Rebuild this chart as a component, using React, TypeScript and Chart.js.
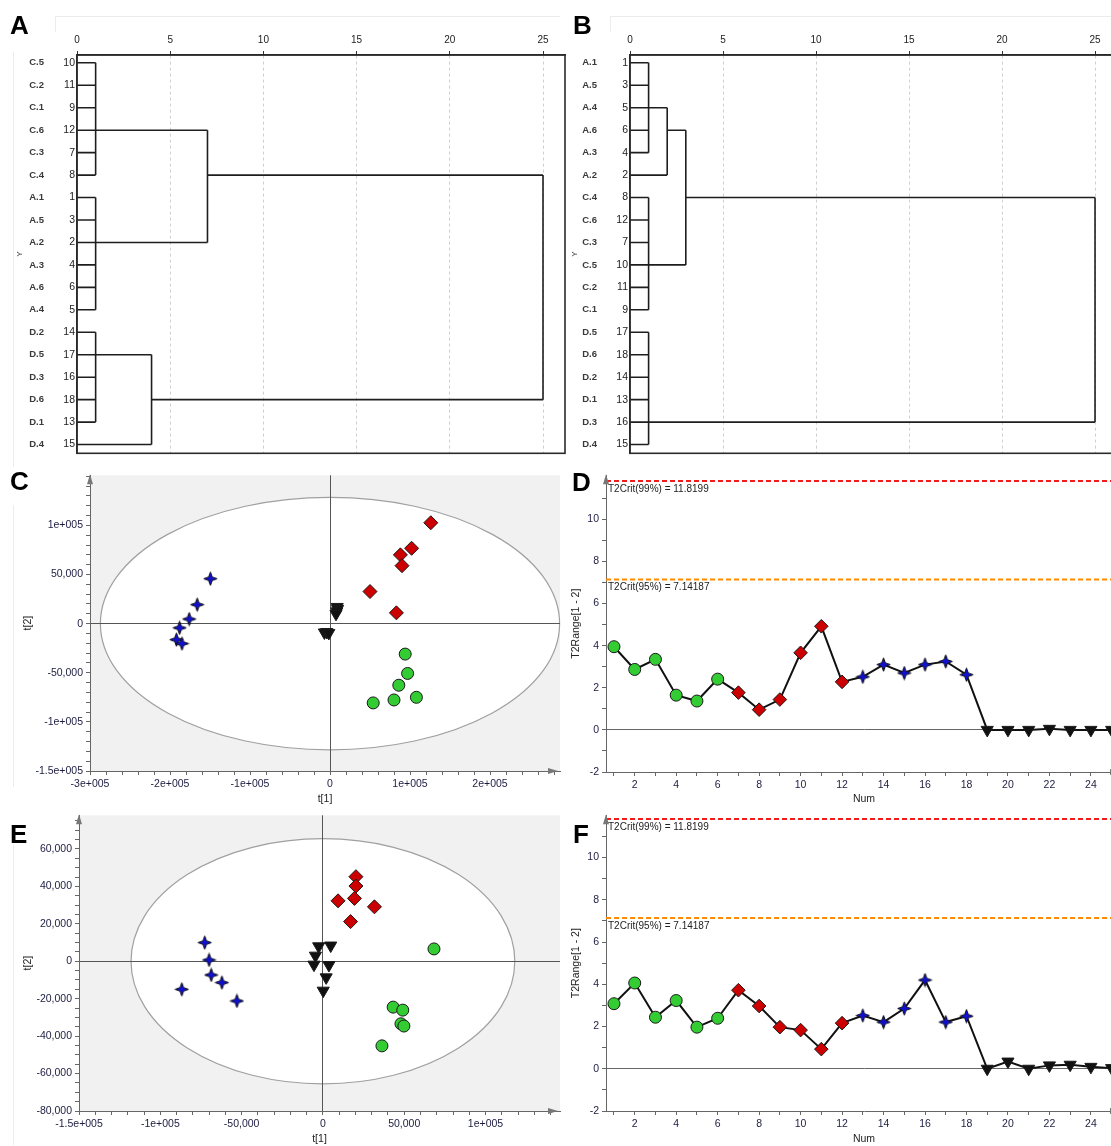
import React, { useEffect, useRef } from 'react';
import { Chart, registerables } from 'chart.js';

Chart.register(...registerables);

// ---------------- data ----------------
const dendroXTicks = [0, 5, 10, 15, 20, 25];

const dendroALabels = ['C.5', 'C.2', 'C.1', 'C.6', 'C.3', 'C.4', 'A.1', 'A.5', 'A.2', 'A.3', 'A.6', 'A.4', 'D.2', 'D.5', 'D.3', 'D.6', 'D.1', 'D.4'];
const dendroAIds = ['10', '11', '9', '12', '7', '8', '1', '3', '2', '4', '6', '5', '14', '17', '16', '18', '13', '15'];
// children: number = leaf row, 'mK' = earlier merge K
const dendroAMerges = [
  { children: [0, 1, 2, 3, 4, 5], height: 1, row: 3 },
  { children: [6, 7, 8, 9, 10, 11], height: 1, row: 8 },
  { children: [12, 13, 14, 15, 16], height: 1, row: 13 },
  { children: ['m0', 'm1'], height: 7, row: 5 },
  { children: ['m2', 17], height: 4, row: 15 },
  { children: ['m3', 'm4'], height: 25, row: 10 },
];

const dendroBLabels = ['A.1', 'A.5', 'A.4', 'A.6', 'A.3', 'A.2', 'C.4', 'C.6', 'C.3', 'C.5', 'C.2', 'C.1', 'D.5', 'D.6', 'D.2', 'D.1', 'D.3', 'D.4'];
const dendroBIds = ['1', '3', '5', '6', '4', '2', '8', '12', '7', '10', '11', '9', '17', '18', '14', '13', '16', '15'];
const dendroBMerges = [
  { children: [0, 1, 2, 3, 4], height: 1, row: 2 },
  { children: ['m0', 5], height: 2, row: 3 },
  { children: [6, 7, 8, 9, 10, 11], height: 1, row: 9 },
  { children: ['m1', 'm2'], height: 3, row: 6 },
  { children: [12, 13, 14, 15, 16, 17], height: 1, row: 16 },
  { children: ['m3', 'm4'], height: 25, row: 11 },
];

// score plot C
const cAx = [94000, 97000, 86000, 108000, 80000, 54000];
const cAy = [-31000, -50700, -62700, -75000, -77700, -80700];
const cCx = [126000, 102000, 88000, 90000, 50000, 83000];
const cCy = [102700, 76700, 70000, 59000, 32700, 11000];
const cDx = [-149500, -166000, -176000, -188000, -192000, -185000];
const cDy = [45700, 19300, 4700, -4300, -16300, -20300];
const cQx = [9000, 9500, 8500, 7500, -7000, -4000, -1500];
const cQy = [17000, 15000, 12500, 10000, -9000, -8500, -9500];
const cXTicks = [-300000, -200000, -100000, 0, 100000, 200000];
const cXTickLabels = ['-3e+005', '-2e+005', '-1e+005', '0', '1e+005', '2e+005'];
const cYTicks = [-150000, -100000, -50000, 0, 50000, 100000];
const cYTickLabels = ['-1.5e+005', '-1e+005', '-50,000', '0', '50,000', '1e+005'];
const ellipseC = [287000, 128500];

// score plot E
const eAx = [68300, 43200, 49100, 48000, 49800, 36300];
const eAy = [6600, -24500, -26100, -33400, -34600, -45200];
const eCx = [20300, 20300, 19400, 9300, 31700, 17000];
const eCy = [45200, 40200, 33600, 32300, 29100, 21200];
const eDx = [-72700, -70000, -68700, -62100, -86800, -52900];
const eDy = [10000, 700, -7300, -11400, -15000, -21200];
const eQx = [-2600, 4800, -4600, -5500, 3700, 2000, 200];
const eQy = [8000, 8400, 3000, -1800, -2000, -8600, -15700];
const eXTicks = [-150000, -100000, -50000, 0, 50000, 100000];
const eXTickLabels = ['-1.5e+005', '-1e+005', '-50,000', '0', '50,000', '1e+005'];
const eYTicks = [-80000, -60000, -40000, -20000, 0, 20000, 40000, 60000];
const eYTickLabels = ['-80,000', '-60,000', '-40,000', '-20,000', '0', '20,000', '40,000', '60,000'];
const ellipseE = [118000, 65500];

// T2 range plots D and F
const sampleNums = [1, 2, 3, 4, 5, 6, 7, 8, 9, 10, 11, 12, 13, 14, 15, 16, 17, 18, 19, 20, 21, 22, 23, 24, 25];
const sampleGroups = ['A', 'A', 'A', 'A', 'A', 'A', 'C', 'C', 'C', 'C', 'C', 'C', 'D', 'D', 'D', 'D', 'D', 'D', 'QC', 'QC', 'QC', 'QC', 'QC', 'QC', 'QC'];
const t2RangeD = [3.95, 2.87, 3.35, 1.65, 1.37, 2.41, 1.77, 0.96, 1.44, 3.66, 4.92, 2.28, 2.52, 3.1, 2.7, 3.1, 3.25, 2.62, 0, 0, 0, 0.05, 0, 0, 0];
const t2RangeF = [3.08, 4.06, 2.44, 3.23, 1.97, 2.39, 3.72, 2.97, 1.97, 1.83, 0.93, 2.16, 2.52, 2.21, 2.85, 4.2, 2.21, 2.49, 0, 0.34, 0, 0.16, 0.19, 0.09, 0.03];
const t2Crit99 = 11.8199;
const t2Crit95 = 7.14187;
const t2Crit99Label = 'T2Crit(99%) = 11.8199';
const t2Crit95Label = 'T2Crit(95%) = 7.14187';
const t2XTickLabels = [2, 4, 6, 8, 10, 12, 14, 16, 18, 20, 22, 24];
const t2YTickLabels = [-2, 0, 2, 4, 6, 8, 10];

// ---------------- styles ----------------
const SANS = "'Liberation Sans', Arial, sans-serif";
const TICK_TXT = '#1c1c40';
const COLORS: any = { A: '#33cc33', C: '#cc0000', D: '#1010d0', QC: '#111111' };

function makeStar(size: number, fill: string) {
  const c = document.createElement('canvas');
  c.width = size;
  c.height = size;
  const g = c.getContext('2d')!;
  const m = size / 2, r = size / 2 - 0.8, ri = r * 0.27;
  g.beginPath();
  g.moveTo(m, m - r);
  g.lineTo(m + ri, m - ri);
  g.lineTo(m + r, m);
  g.lineTo(m + ri, m + ri);
  g.lineTo(m, m + r);
  g.lineTo(m - ri, m + ri);
  g.lineTo(m - r, m);
  g.lineTo(m - ri, m - ri);
  g.closePath();
  g.fillStyle = fill;
  g.fill();
  g.lineWidth = 1;
  g.strokeStyle = '#111';
  g.stroke();
  return c;
}

function stepTicks(from: number, to: number, step: number) {
  const out: any[] = [];
  for (let v = from; v <= to + 1e-9; v += step) out.push({ value: Math.round(v * 1000) / 1000 });
  return out;
}

// ---------------- dendrogram ----------------
function dendroSegments(merges: any[]) {
  const segs: any[] = [];
  const pos = (c: any) =>
    typeof c === 'number'
      ? { h: 0, r: c }
      : { h: merges[+c.slice(1)].height, r: merges[+c.slice(1)].row };
  merges.forEach((m) => {
    const ps = m.children.map(pos);
    ps.forEach((p: any) => segs.push([{ x: p.h, y: p.r }, { x: m.height, y: p.r }]));
    const rows = ps.map((p: any) => p.r);
    segs.push([{ x: m.height, y: Math.min(...rows) }, { x: m.height, y: Math.max(...rows) }]);
  });
  return segs;
}

const framePlugin = {
  id: 'frame',
  afterDatasetsDraw(chart: any) {
    const { ctx, chartArea: a } = chart;
    ctx.save();
    ctx.strokeStyle = '#2a2a2a';
    ctx.lineWidth = 1.6;
    ctx.strokeRect(a.left, a.top, a.right - a.left, a.bottom - a.top);
    ctx.restore();
  },
};

function dendroConfig(labels: string[], ids: string[], merges: any[], o: any) {
  const segs = dendroSegments(merges);
  const rows = labels.map((_, i) => ({ value: i }));
  const yBase = {
    type: 'linear',
    position: 'left',
    reverse: true,
    min: -0.348,
    max: 17.39,
    afterBuildTicks: (ax: any) => {
      ax.ticks = rows.map((r) => ({ ...r }));
    },
  };
  return {
    type: 'scatter',
    data: {
      datasets: segs.map((s: any) => ({
        data: s,
        showLine: true,
        borderColor: '#1e1e1e',
        borderWidth: 1.6,
        pointRadius: 0,
        pointHoverRadius: 0,
        yAxisID: 'yNum',
      })),
    },
    options: {
      animation: false,
      responsive: false,
      events: [],
      layout: { padding: { top: 0, right: o.padRight, bottom: o.padBottom, left: 0 } },
      plugins: { legend: { display: false }, tooltip: { enabled: false } },
      scales: {
        x: {
          type: 'linear',
          position: 'top',
          min: 0,
          max: o.xMax,
          afterBuildTicks: (ax: any) => {
            ax.ticks = dendroXTicks.map((v) => ({ value: v }));
          },
          afterFit: (ax: any) => {
            ax.height = 55;
          },
          ticks: { autoSkip: false, maxRotation: 0, padding: 5, font: { family: SANS, size: 10 }, color: '#222', callback: (v: any) => String(v) },
          grid: {
            color: (c: any) => (c.tick && c.tick.value === 0 ? 'rgba(0,0,0,0)' : '#cfcfcf'),
            lineWidth: 1,
            tickColor: '#333',
            tickLength: 4,
          },
          border: { display: true, color: '#2a2a2a', width: 1.6, dash: [3, 3] },
        },
        yNum: {
          ...yBase,
          weight: 0,
          afterFit: (ax: any) => {
            ax.width = o.numW;
          },
          ticks: { autoSkip: false, padding: 2, font: { family: SANS, size: 10.5 }, color: '#222', callback: (v: any) => ids[v] ?? '' },
          grid: { display: false, drawTicks: false },
          border: { display: true, color: '#2a2a2a', width: 1.6 },
        },
        yLab: {
          ...yBase,
          weight: 10,
          afterFit: (ax: any) => {
            ax.width = o.labW;
          },
          ticks: { autoSkip: false, crossAlign: 'center', padding: 11, font: { family: SANS, size: 9.5, weight: 'bold' }, color: '#3a3a3a', callback: (v: any) => labels[v] ?? '' },
          grid: { display: false, drawTicks: false },
          border: { display: false },
          title: { display: true, text: 'Y', padding: { top: o.titlePad, bottom: 0 }, font: { family: SANS, size: 8 }, color: '#333' },
        },
      },
    },
    plugins: [framePlugin],
  };
}

// ---------------- shared axis decoration ----------------
const arrowPlugin = {
  id: 'arrows',
  afterDraw(chart: any) {
    const { ctx, chartArea: a } = chart;
    ctx.save();
    ctx.fillStyle = '#777';
    ctx.beginPath();
    ctx.moveTo(a.left, a.top - 1);
    ctx.lineTo(a.left - 3, a.top + 9);
    ctx.lineTo(a.left + 3, a.top + 9);
    ctx.closePath();
    ctx.fill();
    ctx.beginPath();
    ctx.moveTo(a.right - 2, a.bottom);
    ctx.lineTo(a.right - 12, a.bottom - 3);
    ctx.lineTo(a.right - 12, a.bottom + 3);
    ctx.closePath();
    ctx.fill();
    ctx.restore();
  },
};

function zeroGrid(lineColor: string) {
  return {
    color: (c: any) => (c.tick && c.tick.value === 0 ? lineColor : 'rgba(0,0,0,0)'),
    lineWidth: 1,
    tickColor: '#666',
    tickLength: 4,
    drawOnChartArea: true,
  };
}

// ---------------- score plots ----------------
function zip(xs: number[], ys: number[]) {
  return xs.map((x, i) => ({ x, y: ys[i] }));
}

function scoreConfig(o: any) {
  const star = makeStar(15, COLORS.D);
  const bg = {
    id: 'scoreBg',
    beforeDraw(chart: any) {
      const { ctx, chartArea: a, scales } = chart;
      ctx.save();
      ctx.fillStyle = '#f1f1f1';
      ctx.fillRect(a.left, a.top, a.right - a.left, a.bottom - a.top);
      const cx = scales.x.getPixelForValue(0);
      const cy = scales.y.getPixelForValue(0);
      const rx = Math.abs(scales.x.getPixelForValue(o.ellipse[0]) - cx);
      const ry = Math.abs(scales.y.getPixelForValue(o.ellipse[1]) - cy);
      ctx.beginPath();
      ctx.ellipse(cx, cy, rx, ry, 0, 0, Math.PI * 2);
      ctx.fillStyle = '#ffffff';
      ctx.fill();
      ctx.strokeStyle = '#a0a0a0';
      ctx.lineWidth = 1.2;
      ctx.stroke();
      ctx.restore();
    },
  };
  const common = { borderColor: '#1a1a1a', pointBorderColor: '#1a1a1a', pointBorderWidth: 1, pointHoverRadius: 0 };
  return {
    type: 'scatter',
    data: {
      datasets: [
        { ...common, data: zip(o.D[0], o.D[1]), pointStyle: star, pointRadius: 7, backgroundColor: COLORS.D },
        { ...common, data: zip(o.QC[0], o.QC[1]), pointStyle: 'triangle', pointRotation: 180, pointRadius: 7, backgroundColor: COLORS.QC },
        { ...common, data: zip(o.C[0], o.C[1]), pointStyle: 'rectRot', pointRadius: 7, backgroundColor: COLORS.C },
        { ...common, data: zip(o.A[0], o.A[1]), pointStyle: 'circle', pointRadius: 6, backgroundColor: COLORS.A },
      ],
    },
    options: {
      animation: false,
      responsive: false,
      events: [],
      layout: { padding: { top: o.padTop, right: o.padRight, bottom: 0, left: 0 } },
      plugins: { legend: { display: false }, tooltip: { enabled: false } },
      scales: {
        x: {
          type: 'linear',
          min: o.xMin,
          max: o.xMax,
          afterBuildTicks: (ax: any) => {
            ax.ticks = stepTicks(o.xMin, o.xMax, o.xMinor);
          },
          afterFit: (ax: any) => {
            ax.height = o.xAxisH;
          },
          ticks: {
            autoSkip: false,
            maxRotation: 0,
            padding: 3,
            font: { family: SANS, size: 10.5 },
            color: TICK_TXT,
            callback: (v: any) => {
              const i = o.xTicks.indexOf(v);
              return i >= 0 ? o.xLabels[i] : '';
            },
          },
          grid: zeroGrid('#555'),
          border: { display: true, color: '#666', width: 1 },
          title: { display: true, text: 't[1]', font: { family: SANS, size: 10.5 }, color: '#222', padding: { top: 0, bottom: o.xTitlePad } },
        },
        y: {
          type: 'linear',
          min: o.yMin,
          max: o.yMax,
          afterBuildTicks: (ax: any) => {
            ax.ticks = stepTicks(o.yMin, o.yMax, o.yMinor);
          },
          afterFit: (ax: any) => {
            ax.width = o.yAxisW;
          },
          ticks: {
            autoSkip: false,
            padding: 3,
            font: { family: SANS, size: 10.5 },
            color: TICK_TXT,
            callback: (v: any) => {
              const i = o.yTicks.indexOf(v);
              return i >= 0 ? o.yLabels[i] : '';
            },
          },
          grid: zeroGrid('#555'),
          border: { display: true, color: '#666', width: 1 },
          title: { display: true, text: 't[2]', font: { family: SANS, size: 10.5 }, color: '#222', padding: { top: o.yTitlePad, bottom: 0 } },
        },
      },
    },
    plugins: [bg, arrowPlugin],
  };
}

// ---------------- T2 range plots ----------------
function t2Config(values: number[], o: any) {
  const star = makeStar(15, COLORS.D);
  const styles = sampleGroups.map((g) => (g === 'A' ? 'circle' : g === 'C' ? 'rectRot' : g === 'D' ? star : 'triangle'));
  const radii = sampleGroups.map((g) => (g === 'A' ? 6 : g === 'C' ? 6.8 : 7));
  const fills = sampleGroups.map((g) => COLORS[g]);
  const rots = sampleGroups.map((g) => (g === 'QC' ? 180 : 0));
  const labelsPlugin = {
    id: 'critLabels',
    afterDatasetsDraw(chart: any) {
      const { ctx, chartArea: a, scales } = chart;
      ctx.save();
      ctx.font = `10px ${SANS}`;
      ctx.fillStyle = '#222';
      ctx.textBaseline = 'middle';
      ctx.textAlign = 'left';
      ctx.fillText(t2Crit99Label, a.left + 2, scales.y.getPixelForValue(t2Crit99) + 8);
      ctx.fillText(t2Crit95Label, a.left + 2, scales.y.getPixelForValue(t2Crit95) + 8);
      ctx.restore();
    },
  };
  return {
    type: 'scatter',
    data: {
      datasets: [
        {
          data: [{ x: o.xMin, y: t2Crit99 }, { x: o.xMax, y: t2Crit99 }],
          showLine: true,
          borderColor: '#ee1c1c',
          borderDash: [5, 3],
          borderWidth: 2,
          pointRadius: 0,
        },
        {
          data: [{ x: o.xMin, y: t2Crit95 }, { x: o.xMax, y: t2Crit95 }],
          showLine: true,
          borderColor: '#ff8a00',
          borderDash: [5, 3],
          borderWidth: 2,
          pointRadius: 0,
        },
        {
          data: values.map((v, i) => ({ x: sampleNums[i], y: v })),
          showLine: true,
          borderColor: '#111',
          borderWidth: 2,
          pointStyle: styles,
          pointRadius: radii,
          pointRotation: rots,
          pointBackgroundColor: fills,
          pointBorderColor: '#1a1a1a',
          pointBorderWidth: 1,
          pointHoverRadius: 0,
          clip: false,
        },
      ],
    },
    options: {
      animation: false,
      responsive: false,
      events: [],
      layout: { padding: { top: o.padTop, right: o.padRight, bottom: 0, left: 0 } },
      plugins: { legend: { display: false }, tooltip: { enabled: false } },
      scales: {
        x: {
          type: 'linear',
          min: o.xMin,
          max: o.xMax,
          afterBuildTicks: (ax: any) => {
            ax.ticks = sampleNums.map((v) => ({ value: v }));
          },
          afterFit: (ax: any) => {
            ax.height = o.xAxisH;
          },
          ticks: {
            autoSkip: false,
            maxRotation: 0,
            padding: 3,
            font: { family: SANS, size: 10.5 },
            color: TICK_TXT,
            callback: (v: any) => (t2XTickLabels.indexOf(v) >= 0 ? String(v) : ''),
          },
          grid: { color: 'rgba(0,0,0,0)', tickColor: '#666', tickLength: 4 },
          border: { display: true, color: '#666', width: 1 },
          title: { display: true, text: 'Num', font: { family: SANS, size: 10.5 }, color: '#222', padding: { top: 0, bottom: o.xTitlePad } },
        },
        y: {
          type: 'linear',
          min: -2,
          max: o.yMax,
          afterBuildTicks: (ax: any) => {
            ax.ticks = stepTicks(-2, 11, 1);
          },
          afterFit: (ax: any) => {
            ax.width = o.yAxisW;
          },
          ticks: {
            autoSkip: false,
            padding: 3,
            font: { family: SANS, size: 10.5 },
            color: TICK_TXT,
            callback: (v: any) => (t2YTickLabels.indexOf(v) >= 0 ? String(v) : ''),
          },
          grid: zeroGrid('#666'),
          border: { display: true, color: '#666', width: 1 },
          title: { display: true, text: 'T2Range[1 - 2]', font: { family: SANS, size: 10.5 }, color: '#222', padding: { top: 0, bottom: 0 } },
        },
      },
    },
    plugins: [arrowPlugin, labelsPlugin],
  };
}

// ---------------- component ----------------
const panelLabel = (left: number, top: number): React.CSSProperties => ({
  position: 'absolute',
  left,
  top,
  fontFamily: SANS,
  fontWeight: 'bold',
  fontSize: 26,
  lineHeight: 1,
  color: '#000',
});

const faint = (left: number, top: number, width: number, height: number): React.CSSProperties => ({
  position: 'absolute',
  left,
  top,
  width,
  height,
  background: '#ececec',
});

export default function App() {
  const rA = useRef<HTMLCanvasElement>(null);
  const rB = useRef<HTMLCanvasElement>(null);
  const rC = useRef<HTMLCanvasElement>(null);
  const rD = useRef<HTMLCanvasElement>(null);
  const rE = useRef<HTMLCanvasElement>(null);
  const rF = useRef<HTMLCanvasElement>(null);

  useEffect(() => {
    const charts: Chart[] = [];
    charts.push(
      new Chart(rA.current!, dendroConfig(dendroALabels, dendroAIds, dendroAMerges, { labW: 55, numW: 22, padRight: 7, padBottom: 7, xMax: 26.18, titlePad: 15 }) as any)
    );
    charts.push(
      new Chart(rB.current!, dendroConfig(dendroBLabels, dendroBIds, dendroBMerges, { labW: 38, numW: 22, padRight: 0, padBottom: 7, xMax: 26.45, titlePad: 0 }) as any)
    );
    charts.push(
      new Chart(rC.current!, scoreConfig({
        A: [cAx, cAy], C: [cCx, cCy], D: [cDx, cDy], QC: [cQx, cQy],
        xMin: -300000, xMax: 287500, yMin: -150000, yMax: 151000, xMinor: 20000, yMinor: 10000,
        xTicks: cXTicks, xLabels: cXTickLabels, yTicks: cYTicks, yLabels: cYTickLabels,
        ellipse: ellipseC, yAxisW: 90, xAxisH: 35, padTop: 4, padRight: 12, yTitlePad: 22, xTitlePad: 1,
      }) as any)
    );
    charts.push(
      new Chart(rE.current!, scoreConfig({
        A: [eAx, eAy], C: [eCx, eCy], D: [eDx, eDy], QC: [eQx, eQy],
        xMin: -150000, xMax: 145800, yMin: -80000, yMax: 78000, xMinor: 10000, yMinor: 5000,
        xTicks: eXTicks, xLabels: eXTickLabels, yTicks: eYTicks, yLabels: eYTickLabels,
        ellipse: ellipseE, yAxisW: 79, xAxisH: 35, padTop: 9, padRight: 12, yTitlePad: 22, xTitlePad: 1,
      }) as any)
    );
    charts.push(
      new Chart(rD.current!, t2Config(t2RangeD, { xMin: 0.615, xMax: 25.5, yMax: 12.09, yAxisW: 36, xAxisH: 34, padTop: 4, padRight: 6, xTitlePad: 1 }) as any)
    );
    charts.push(
      new Chart(rF.current!, t2Config(t2RangeF, { xMin: 0.615, xMax: 25.5, yMax: 12.0, yAxisW: 36, xAxisH: 35, padTop: 4, padRight: 6, xTitlePad: 1 }) as any)
    );
    return () => charts.forEach((c) => c.destroy());
  }, []);

  const cv = (left: number, top: number, w: number, h: number): React.CSSProperties => ({ position: 'absolute', left, top, width: w, height: h });

  return (
    <div style={{ position: 'absolute', left: 0, top: 0, width: 1111, height: 1146, overflow: 'hidden', background: '#fff' }}>
      <div style={faint(55, 16, 505, 1)} />
      <div style={faint(55, 16, 1, 16)} />
      <div style={faint(13, 52, 1, 415)} />
      <div style={faint(610, 16, 501, 1)} />
      <div style={faint(610, 16, 1, 16)} />
      <div style={faint(13, 505, 1, 282)} />
      <div style={faint(13, 845, 1, 300)} />
      <canvas ref={rA} width={572} height={470} style={cv(0, 0, 572, 470)} />
      <canvas ref={rB} width={552} height={470} style={cv(570, 0, 552, 470)} />
      <canvas ref={rC} width={572} height={340} style={cv(0, 466, 572, 340)} />
      <canvas ref={rD} width={560} height={340} style={cv(570, 466, 560, 340)} />
      <canvas ref={rE} width={572} height={340} style={cv(0, 806, 572, 340)} />
      <canvas ref={rF} width={560} height={340} style={cv(570, 806, 560, 340)} />
      <div style={panelLabel(10, 12)}>A</div>
      <div style={panelLabel(573, 12)}>B</div>
      <div style={panelLabel(10, 468)}>C</div>
      <div style={panelLabel(572, 469)}>D</div>
      <div style={panelLabel(10, 821)}>E</div>
      <div style={panelLabel(573, 821)}>F</div>
    </div>
  );
}
